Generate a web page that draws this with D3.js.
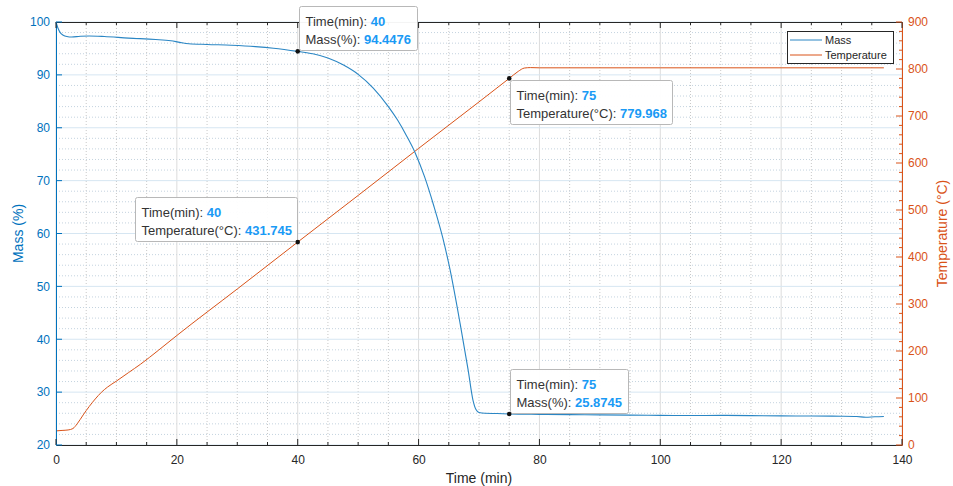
<!DOCTYPE html>
<html>
<head>
<meta charset="utf-8">
<script src="https://cdn.jsdelivr.net/npm/d3@7"></script>
<style>
  html, body { margin: 0; padding: 0; background: #fff; }
  svg { display: block; font-family: "Liberation Sans", Arial, Helvetica, sans-serif; }
</style>
</head>
<body>
<svg id="chart" width="953" height="486"></svg>
<script>
// Thermogravimetric run: sample mass and furnace temperature against time
const massTime = [0, 0.3, 0.7, 1.2, 1.8, 2.6, 4, 5.5, 8, 12, 16.5, 19, 20.5, 22, 25, 29, 33, 36, 40,
  42.5, 45, 47.5, 50, 52.5, 55, 56.5, 58, 59.5, 61, 62.5, 64, 65.2, 66.9, 68.2, 69, 69.5, 70, 71, 73, 75,
  80, 85, 90, 95, 100, 105, 110, 115, 120, 125, 130, 132.5, 134, 135.5, 137];
const massValues = [100, 98.9, 98.0, 97.5, 97.25, 97.15, 97.3, 97.35, 97.25, 96.95, 96.7, 96.45, 96.15, 95.9, 95.75, 95.6, 95.35, 95.05, 94.4476,
  94.0, 93.2, 91.9, 90.1, 87.5, 84.0, 81.5, 78.5, 75.1, 70.7, 65.3, 59.2, 53.2, 42.8, 34.2, 28.5, 26.7, 26.15, 26.0, 25.95, 25.8745,
  25.8, 25.75, 25.7, 25.65, 25.6, 25.58, 25.6, 25.55, 25.5, 25.48, 25.45, 25.4, 25.25, 25.35, 25.4];

const tempTime = [0, 1, 2, 2.8, 3.5, 4.5, 5.5, 6.5, 7.5, 8.5, 10, 12, 14, 17, 20, 30, 40, 50, 60, 70, 75,
  76.5, 77.5, 78.5, 80, 100, 120, 137];
const tempValues = [30, 31, 32, 35, 45, 64, 82, 98, 112, 123, 136, 154, 172, 202, 233, 332, 431.745, 531, 631, 730, 779.968,
  795, 802, 803, 802.5, 802.5, 802.5, 802.5];

const timeTicks = [0, 20, 40, 60, 80, 100, 120, 140];
const massTicks = [20, 30, 40, 50, 60, 70, 80, 90, 100];
const tempTicks = [0, 100, 200, 300, 400, 500, 600, 700, 800, 900];

// Data tips: which series, at which time, and where the box sits
const tips = [
  { series: "mass", t: 40, side: "upright" },
  { series: "temp", t: 40, side: "upleft" },
  { series: "temp", t: 75, side: "downright" },
  { series: "mass", t: 75, side: "upright" }
];

const massColor = "#0072BD";
const massLine = "#2a86c4";
const tempColor = "#D95319";

const svg = d3.select("#chart");
const pL = 56, pR = 902, pT = 22, pB = 445;

const x = d3.scaleLinear().domain([0, 140]).range([pL, pR]);
const yM = d3.scaleLinear().domain([20, 100]).range([pB, pT]);
const yT = d3.scaleLinear().domain([0, 900]).range([pB, pT]);

// grid
const grid = svg.append("g");
d3.range(0, 141, 5).filter(v => v % 20 !== 0).forEach(v => {
  grid.append("line").attr("x1", x(v)).attr("x2", x(v)).attr("y1", pT).attr("y2", pB)
    .attr("stroke", "#c8c8c8").attr("stroke-width", 1).attr("stroke-dasharray", "1,2");
});
d3.range(20, 101, 2).filter(v => v % 10 !== 0).forEach(v => {
  grid.append("line").attr("x1", pL).attr("x2", pR).attr("y1", yM(v)).attr("y2", yM(v))
    .attr("stroke", "#c4d3df").attr("stroke-width", 1).attr("stroke-dasharray", "1,2");
});
timeTicks.forEach(v => {
  grid.append("line").attr("x1", x(v)).attr("x2", x(v)).attr("y1", pT).attr("y2", pB)
    .attr("stroke", "#dcdcdc").attr("stroke-width", 1);
});
massTicks.forEach(v => {
  grid.append("line").attr("x1", pL).attr("x2", pR).attr("y1", yM(v)).attr("y2", yM(v))
    .attr("stroke", "#d6e6f2").attr("stroke-width", 1);
});

// series
const massData = massTime.map((t, i) => [t, massValues[i]]);
const tempData = tempTime.map((t, i) => [t, tempValues[i]]);

svg.append("path").datum(tempData)
  .attr("fill", "none").attr("stroke", tempColor).attr("stroke-width", 1)
  .attr("d", d3.line().x(d => x(d[0])).y(d => yT(d[1])).curve(d3.curveMonotoneX));
svg.append("path").datum(massData)
  .attr("fill", "none").attr("stroke", massLine).attr("stroke-width", 1.1)
  .attr("d", d3.line().x(d => x(d[0])).y(d => yM(d[1])).curve(d3.curveMonotoneX));

// axes
const tickFont = 12;
const gBottom = svg.append("g").attr("transform", `translate(0,${pB})`)
  .call(d3.axisBottom(x).tickValues(timeTicks).tickSize(0).tickPadding(10));
const gTop = svg.append("g").attr("transform", `translate(0,${pT})`)
  .call(d3.axisTop(x).tickValues(timeTicks).tickSize(0).tickFormat(""));
const gLeft = svg.append("g").attr("transform", `translate(${pL},0)`)
  .call(d3.axisLeft(yM).tickValues(massTicks).tickSize(0).tickPadding(6));
const gRight = svg.append("g").attr("transform", `translate(${pR},0)`)
  .call(d3.axisRight(yT).tickValues(tempTicks).tickSize(0).tickPadding(6));

[gBottom, gTop, gLeft, gRight].forEach(g => {
  g.selectAll("text").attr("font-size", tickFont).attr("font-family", "Liberation Sans, Arial, sans-serif");
});
gBottom.select(".domain").attr("stroke", "#262626");
gTop.select(".domain").attr("stroke", "#262626");
gBottom.selectAll("text").attr("fill", "#262626");
gLeft.select(".domain").attr("stroke", massColor);
gLeft.selectAll("text").attr("fill", massColor);
gRight.select(".domain").attr("stroke", tempColor);
gRight.selectAll("text").attr("fill", tempColor);

// inward tick marks
const ticks = svg.append("g");
d3.range(0, 141, 5).forEach(v => {
  const len = v % 20 === 0 ? 6 : 3;
  ticks.append("line").attr("x1", x(v)).attr("x2", x(v)).attr("y1", pB).attr("y2", pB - len).attr("stroke", "#262626");
  ticks.append("line").attr("x1", x(v)).attr("x2", x(v)).attr("y1", pT).attr("y2", pT + len).attr("stroke", "#262626");
});
massTicks.forEach(v => {
  ticks.append("line").attr("x1", pL).attr("x2", pL + 6).attr("y1", yM(v)).attr("y2", yM(v)).attr("stroke", massColor);
});
d3.range(0, 901, 20).forEach(v => {
  const len = v % 100 === 0 ? 6 : 3;
  ticks.append("line").attr("x1", pR).attr("x2", pR - len).attr("y1", yT(v)).attr("y2", yT(v)).attr("stroke", tempColor);
});

// axis titles
svg.append("text").attr("x", (pL + pR) / 2).attr("y", 483).attr("text-anchor", "middle")
  .attr("font-size", 14).attr("fill", "#262626").text("Time (min)");
svg.append("text").attr("transform", `translate(23,${(pT + pB) / 2}) rotate(-90)`)
  .attr("text-anchor", "middle").attr("font-size", 14).attr("fill", massColor).text("Mass (%)");
svg.append("text").attr("transform", `translate(947,${(pT + pB) / 2}) rotate(-90)`)
  .attr("text-anchor", "middle").attr("font-size", 14).attr("fill", tempColor).text("Temperature (°C)");

// legend
const lg = svg.append("g");
lg.append("rect").attr("x", 787.5).attr("y", 31.5).attr("width", 106).attr("height", 32)
  .attr("fill", "#fff").attr("stroke", "#262626").attr("stroke-width", 1);
[["Mass", massLine, 40], ["Temperature", tempColor, 55]].forEach(([name, c, yy]) => {
  lg.append("line").attr("x1", 790).attr("x2", 822).attr("y1", yy).attr("y2", yy).attr("stroke", c).attr("stroke-width", 1);
  lg.append("text").attr("x", 825).attr("y", yy + 4).attr("font-size", 11).attr("fill", "#262626").text(name);
});

// data tips
const tipLayer = svg.append("g");
tips.forEach(tip => {
  const isMass = tip.series === "mass";
  const times = isMass ? massTime : tempTime;
  const vals = isMass ? massValues : tempValues;
  const v = vals[times.indexOf(tip.t)];
  const px = x(tip.t), py = isMass ? yM(v) : yT(v);
  const rows = [["Time(min): ", String(tip.t)], [isMass ? "Mass(%): " : "Temperature(°C): ", String(v)]];

  const g = tipLayer.append("g");
  const box = g.append("rect").attr("fill", "#fff").attr("fill-opacity", 0.95)
    .attr("stroke", "#b8b8b8").attr("stroke-width", 1).attr("rx", 2);
  let maxW = 0;
  const texts = rows.map((r, i) => {
    const t = g.append("text").attr("font-size", 13).attr("y", 19 + i * 18);
    t.append("tspan").attr("fill", "#333").text(r[0]);
    t.append("tspan").attr("fill", "#1a9af5").attr("font-weight", "bold").text(r[1]);
    maxW = Math.max(maxW, t.node().getComputedTextLength());
    return t;
  });
  const w = Math.round(maxW + 12), h = 44;
  let bx, by;
  if (tip.side === "upright") { bx = px + 1; by = py - 1 - h; }
  else if (tip.side === "upleft") { bx = px - 1 - w; by = py - 1 - h; }
  else { bx = px + 1; by = py + 2; }
  bx = Math.round(bx) + 0.5; by = Math.round(by) + 0.5;
  box.attr("x", bx).attr("y", by).attr("width", w).attr("height", h);
  texts.forEach(t => t.attr("x", bx + 6).attr("y", +t.attr("y") + by));
  tipLayer.append("circle").attr("cx", px).attr("cy", py).attr("r", 2.3).attr("fill", "#111");
});
</script>
</body>
</html>
